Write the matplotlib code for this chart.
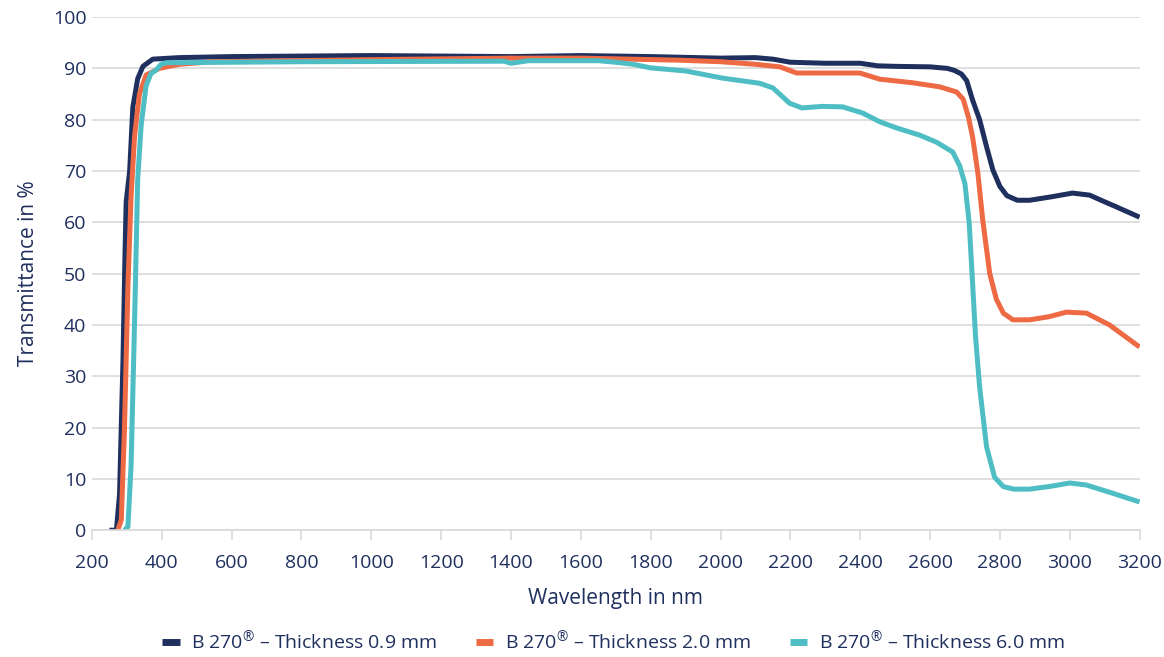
import matplotlib
matplotlib.use("Agg")
import matplotlib.pyplot as plt

# wavelength (nm) / transmittance (%)
wl_09 = [250, 270, 279, 289, 295, 298, 308, 317, 331, 346, 374, 450, 600, 1000, 1400, 1600,
         1800, 2000, 2100, 2150, 2200, 2300, 2400, 2450, 2500, 2600, 2650, 2670, 2690, 2705, 2722,
         2742, 2762, 2780, 2800, 2820, 2850, 2885, 2950, 3008, 3057, 3100, 3134, 3200]
tr_09 = [0, 0, 7, 33.5, 55, 64, 70, 82.4, 88, 90.4, 91.8, 92.1, 92.3, 92.5, 92.3, 92.5,
         92.3, 92.0, 92.1, 91.8, 91.2, 91.0, 91.0, 90.5, 90.4, 90.3, 90.0, 89.6, 88.9, 87.6, 83.8,
         80.0, 74.7, 70.2, 67.0, 65.2, 64.3, 64.3, 65.0, 65.7, 65.3, 64.0, 63.0, 61.0]

wl_20 = [274, 284, 293, 303, 312, 322, 336, 355, 393, 450, 546, 1000, 1400, 1600, 1883,
         2000, 2100, 2170, 2218, 2300, 2399, 2456, 2550, 2628, 2676, 2695, 2710, 2722, 2737, 2751,
         2771, 2790, 2810, 2837, 2885, 2940, 2991, 3048, 3114, 3200]
tr_20 = [0, 2, 19.5, 47.5, 65, 76.8, 85, 88.7, 90, 90.8, 91.3, 91.7, 92.0, 92.0, 91.6,
         91.3, 90.8, 90.3, 89.1, 89.1, 89.1, 87.9, 87.2, 86.4, 85.4, 84.0, 80.5, 76.6, 69.6, 60.4,
         50.0, 45.0, 42.3, 41.0, 41.0, 41.6, 42.5, 42.3, 40.0, 35.7]

wl_60 = [293, 303, 312, 322, 331, 341, 355, 369, 384, 398, 412, 800, 1380, 1400, 1420, 1450,
         1650, 1700, 1750, 1800, 1900, 2006, 2112, 2150, 2198, 2233, 2293, 2350, 2407, 2456,
         2504, 2570, 2619, 2665, 2685, 2700, 2712, 2722, 2730, 2742, 2762, 2785, 2810, 2840,
         2885, 2950, 3000, 3048, 3123, 3200]
tr_60 = [0, 0.7, 12.6, 40.5, 68.4, 79, 86.6, 89, 89.7, 90.8, 91.1, 91.3, 91.4, 91.0, 91.2, 91.5,
         91.5, 91.2, 90.8, 90.1, 89.5, 88.1, 87.1, 86.2, 83.2, 82.3, 82.6, 82.5, 81.3, 79.6,
         78.4, 77.0, 75.6, 73.7, 71.0, 67.5, 60.0, 48.0, 38.0, 27.9, 16.2, 10.3, 8.5, 8.0,
         8.0, 8.6, 9.2, 8.8, 7.2, 5.5]

labels = ["B 270$^{®}$ – Thickness 0.9 mm", "B 270$^{®}$ – Thickness 2.0 mm",
          "B 270$^{®}$ – Thickness 6.0 mm"]
colors = ["#1f2f5e", "#ee6a45", "#4fbec4"]
text_col = "#1f2f5e"

plt.rcParams["font.family"] = ["Open Sans", "DejaVu Sans"]
plt.rcParams["mathtext.fontset"] = "custom"
plt.rcParams["mathtext.rm"] = "Open Sans"
plt.rcParams["mathtext.it"] = "Open Sans"

fig = plt.figure(figsize=(11.64, 6.57), dpi=100)
ax = fig.add_axes([0.079, 0.193, 0.900, 0.781])

for wl, tr, lab, c in zip([wl_09, wl_20, wl_60], [tr_09, tr_20, tr_60], labels, colors):
    ax.plot(wl, tr, color=c, lw=3.6, label=lab, solid_capstyle="butt", solid_joinstyle="round")

ax.set_xlim(200, 3200)
ax.set_ylim(0, 100)
ax.set_xticks(range(200, 3201, 200))
ax.set_yticks(range(0, 101, 10))
ax.grid(axis="y", color="#d9d9d9", lw=1.2)
ax.set_axisbelow(True)
for s in ["top", "right", "left"]:
    ax.spines[s].set_visible(False)
ax.spines["bottom"].set_color("#d9d9d9")
ax.spines["bottom"].set_linewidth(1.2)
ax.tick_params(axis="x", length=7, width=1.2, color="#d9d9d9", labelsize=14,
               labelcolor=text_col, pad=10)
ax.tick_params(axis="y", length=0, labelsize=14, labelcolor=text_col, pad=4)

ax.set_xlabel("Wavelength in nm", fontsize=15, color=text_col, labelpad=12)
ax.set_ylabel("Transmittance in %", fontsize=15, color=text_col, labelpad=10)

leg = fig.legend(loc="lower center", bbox_to_anchor=(0.527, -0.02), ncol=3, frameon=False,
                 fontsize=14, handlelength=0.9, columnspacing=2.0, handletextpad=0.6)
for h in leg.get_lines():
    h.set_linewidth(5)
for t in leg.get_texts():
    t.set_color(text_col)

fig.savefig("out.png", dpi=100)
